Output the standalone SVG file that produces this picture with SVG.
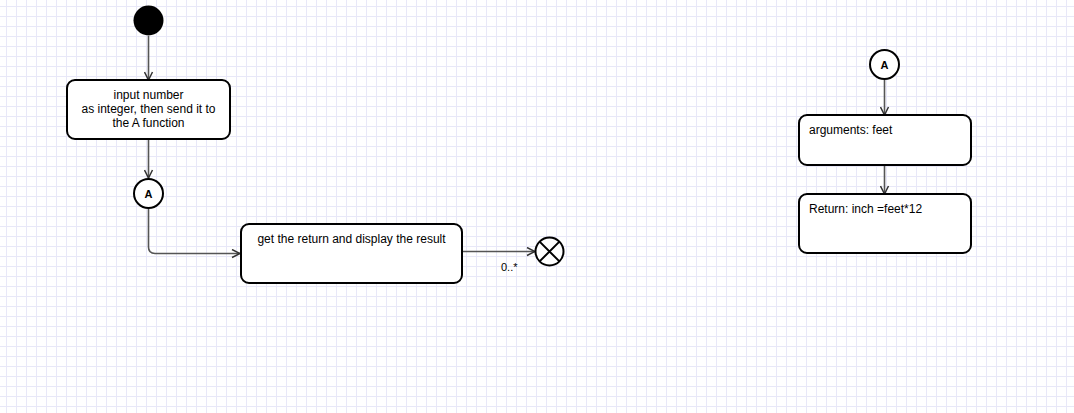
<svg xmlns="http://www.w3.org/2000/svg" width="1074" height="413" viewBox="0 0 1074 413">
<defs>
<pattern id="grid" width="10" height="10" patternUnits="userSpaceOnUse" x="6" y="6">
<path d="M0 0.5H10M0.5 0V10" stroke="#e8e8f8" stroke-width="1" fill="none"/>
</pattern>
<marker id="arrow" viewBox="0 0 10 10" refX="9" refY="5" markerWidth="10" markerHeight="10" markerUnits="userSpaceOnUse" orient="auto">
<path d="M1,1 L9,5 L1,9" fill="none" stroke="#333" stroke-width="1.5"/>
</marker>
</defs>
<style>
.box{fill:#fff;stroke:#000;stroke-width:2}
.conn{fill:none;stroke:#555;stroke-width:1.6;marker-end:url(#arrow)}
.t{font-family:"Liberation Sans",Arial,sans-serif;font-size:12px;fill:#000}
.c{text-anchor:middle}
.lbl{font-family:"Liberation Sans",Arial,sans-serif;font-size:11px;font-weight:bold;fill:#000;text-anchor:middle}
</style>
<rect width="1074" height="413" fill="#fff"/>
<rect width="1074" height="413" fill="url(#grid)"/>

<g id="connectors">
<path class="conn" d="M148.5 36 V80"/>
<path class="conn" d="M148.5 139 V178"/>
<path class="conn" d="M148.5 208 V247 Q148.5 253.5 155 253.5 H240"/>
<path class="conn" d="M462 251.5 H535"/>
<path class="conn" d="M884.5 80 V115"/>
<path class="conn" d="M884.5 165 V194"/>
<text class="t" x="501" y="271" style="font-size:11px">0..*</text>
</g>

<g id="start">
<circle cx="148.5" cy="20.5" r="15" fill="#000"/>
</g>

<g id="input">
<rect class="box" x="67" y="80" width="163" height="59" rx="8"/>
<text class="t c" x="148.5" y="99">input number</text>
<text class="t c" x="148.5" y="113">as integer, then send it to</text>
<text class="t c" x="148.5" y="127">the A function</text>
</g>

<g id="connectorA1">
<circle cx="148.5" cy="193.5" r="14.5" fill="#fff" stroke="#000" stroke-width="2"/>
<text class="lbl" x="148.5" y="197.5">A</text>
</g>

<g id="display">
<rect class="box" x="241" y="224" width="221" height="59" rx="8"/>
<text class="t c" x="351.5" y="243">get the return and display the result</text>
</g>

<g id="end">
<circle cx="549.5" cy="251.5" r="14" fill="#fff" stroke="#000" stroke-width="2"/>
<path d="M539.6 241.6 L559.4 261.4 M559.4 241.6 L539.6 261.4" stroke="#000" stroke-width="2"/>
</g>

<g id="connectorA2">
<circle cx="884.5" cy="64.5" r="14.5" fill="#fff" stroke="#000" stroke-width="2"/>
<text class="lbl" x="884.5" y="68.5">A</text>
</g>

<g id="arguments">
<rect class="box" x="799" y="115" width="172" height="50" rx="8"/>
<text class="t" x="809" y="134">arguments: feet</text>
</g>

<g id="return">
<rect class="box" x="799" y="194" width="172" height="59" rx="8"/>
<text class="t" x="809" y="213">Return: inch =feet*12</text>
</g>
</svg>
